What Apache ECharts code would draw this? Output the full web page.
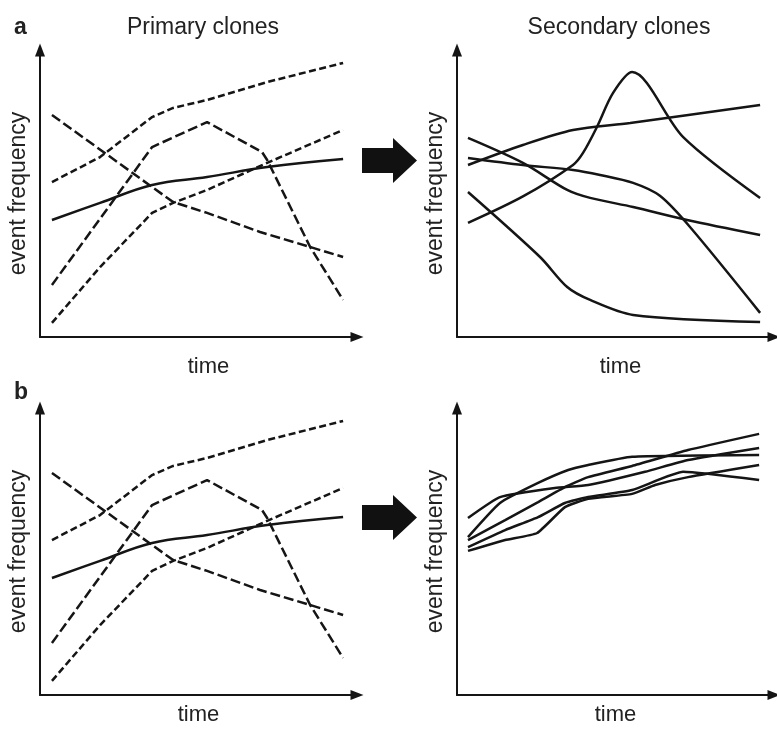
<!DOCTYPE html>
<html>
<head>
<meta charset="utf-8">
<script src="https://cdn.jsdelivr.net/npm/echarts@6/dist/echarts.min.js"></script>
<style>html,body{margin:0;padding:0;background:#fff}#c{width:777px;height:731px}</style>
</head>
<body>
<div id="c"></div>
<script>
// ---- data: [time, event frequency] in arbitrary units ----
// Panel a/b, primary clones (dashed short, dashed long, solid)
const primaryShortTop = [[0.37,5.27],[1.86,6.12],[3.47,7.48],[4.12,7.79],[5.17,8.06],[7.03,8.67],[9.38,9.32]];
const primaryLongFall = [[0.37,7.55],[3.47,5.10],[4.12,4.59],[5.17,4.22],[6.81,3.57],[8.36,3.06],[9.38,2.72]];
const primaryLongPeak = [[0.37,1.77],[3.47,6.46],[5.17,7.31],[6.87,6.29],[7.03,6.02],[8.36,3.06],[9.38,1.26]];
const primaryShortRise = [[0.37,0.48],[1.86,2.38],[3.47,4.22],[4.12,4.56],[5.17,5.00],[7.03,5.92],[9.38,7.04]];
const primarySolid = [[0.37,3.98],[1.86,4.56],[3.47,5.17],[5.17,5.44],[7.03,5.78],[9.38,6.05]];

// Panel a, secondary clones (divergent)
const secA1 = [[0.34,3.88],[2.04,4.78],[3.59,5.85],[3.90,6.26],[4.33,7.14],[4.83,8.30],[5.42,9.01],[7.00,6.80],[9.38,4.73]];
const secA2 = [[0.34,5.85],[2.04,6.53],[3.59,7.04],[5.36,7.28],[9.38,7.89]];
const secA3 = [[0.34,6.77],[2.04,5.92],[3.41,5.00],[4.12,4.73],[5.45,4.42],[7.12,3.98],[9.38,3.47]];
const secA4 = [[0.34,6.09],[2.04,5.85],[3.59,5.68],[4.43,5.51],[5.45,5.24],[6.28,4.80],[7.21,3.74],[9.38,0.82]];
const secA5 = [[0.34,4.93],[2.57,2.72],[3.41,1.70],[4.12,1.26],[5.45,0.75],[9.38,0.51]];

// Panel b, secondary clones (convergent)
const secB1 = [[0.34,6.02],[1.33,6.73],[3.03,7.04],[4.06,7.14],[5.82,7.59],[7.15,7.99],[9.35,8.40]];
const secB2 = [[0.34,5.37],[1.33,6.53],[2.51,7.21],[3.44,7.65],[4.06,7.82],[5.42,8.10],[9.35,8.16]];
const secB3 = [[0.34,5.27],[1.49,5.95],[2.51,6.56],[3.34,7.07],[4.06,7.41],[5.42,7.79],[7.15,8.33],[9.35,8.88]];
const secB4 = [[0.34,5.03],[1.49,5.61],[2.51,6.05],[3.34,6.53],[4.06,6.73],[5.42,6.97],[7.00,7.59],[9.35,7.31]];
const secB5 = [[0.34,4.90],[1.49,5.27],[2.48,5.51],[3.34,6.39],[4.06,6.67],[5.42,6.84],[6.13,7.14],[7.15,7.41],[9.35,7.82]];

const panelTitles = ['Primary clones', 'Secondary clones'];
const panelLetters = ['a', 'b'];
const xName = 'time';
const yName = 'event frequency';

// ---- chart ----
const FONT = 'Liberation Sans, Arial, Helvetica, sans-serif';
const INK = '#151515';
const TXT = '#222';
const chart = echarts.init(document.getElementById('c'), null, {renderer: 'canvas'});

const gridDefs = [
  {left: 40, top: 50, width: 317, height: 287},
  {left: 457, top: 50, width: 317, height: 287},
  {left: 40, top: 408, width: 317, height: 287},
  {left: 457, top: 408, width: 317, height: 287}
];
const namePadLeft = [20, 10, 0, 0];
const nameGapX = [19, 19, 9, 9];
const X_MAX = 9.81, Y_MAX = 9.76;

function axisLine() {
  return {show: true, lineStyle: {color: INK, width: 2}, symbol: ['none', 'triangle'], symbolSize: [10, 13]};
}
const xAxes = gridDefs.map((g, i) => ({
  gridIndex: i, type: 'value', min: 0, max: X_MAX,
  axisLine: axisLine(), axisTick: {show: false}, axisLabel: {show: false}, splitLine: {show: false},
  name: xName, nameLocation: 'middle', nameGap: nameGapX[i],
  nameTextStyle: {fontFamily: FONT, fontSize: 22, color: TXT, padding: [0, 0, 0, namePadLeft[i]]}
}));
const yAxes = gridDefs.map((g, i) => ({
  gridIndex: i, type: 'value', min: 0, max: Y_MAX,
  axisLine: axisLine(), axisTick: {show: false}, axisLabel: {show: false}, splitLine: {show: false},
  name: yName, nameLocation: 'middle', nameGap: 10, nameRotate: 90,
  nameTextStyle: {fontFamily: FONT, fontSize: 23, color: TXT, verticalAlign: 'bottom'}
}));

function line(data, idx, dash, smooth) {
  return {
    type: 'line', data: data, xAxisIndex: idx, yAxisIndex: idx,
    showSymbol: false, symbol: 'none', smooth: smooth || false, silent: true,
    lineStyle: {color: INK, width: 2.5, type: dash || 'solid', cap: 'butt'}
  };
}
const SHORT = [7, 3.5], LONG = [10, 4];
const series = [];
[0, 2].forEach(i => {
  series.push(line(primaryShortTop, i, SHORT));
  series.push(line(primaryLongFall, i, LONG));
  series.push(line(primaryLongPeak, i, LONG));
  series.push(line(primaryShortRise, i, SHORT));
  series.push(line(primarySolid, i, 'solid', 0.4));
});
[secA1, secA2, secA3, secA4, secA5].forEach(d => series.push(line(d, 1, 'solid', 0.3)));
[secB1, secB2, secB3, secB4, secB5].forEach(d => series.push(line(d, 3, 'solid', 0.15)));

function bigArrow(yc) {
  return {
    type: 'polygon', silent: true,
    shape: {points: [[362, yc - 12.5], [393, yc - 12.5], [393, yc - 22.5], [417, yc], [393, yc + 22.5], [393, yc + 12.5], [362, yc + 12.5]]},
    style: {fill: '#111'}
  };
}

chart.setOption({
  backgroundColor: '#fff',
  animation: false,
  title: [
    {text: panelLetters[0], left: 9, top: 11, textStyle: {fontFamily: FONT, fontSize: 23, fontWeight: 'bold', color: TXT}},
    {text: panelLetters[1], left: 9, top: 376, textStyle: {fontFamily: FONT, fontSize: 23, fontWeight: 'bold', color: TXT}},
    {text: panelTitles[0], left: 198, top: 11, textAlign: 'center', textStyle: {fontFamily: FONT, fontSize: 23, fontWeight: 'normal', color: TXT}},
    {text: panelTitles[1], left: 614, top: 11, textAlign: 'center', textStyle: {fontFamily: FONT, fontSize: 23, fontWeight: 'normal', color: TXT}}
  ],
  grid: gridDefs.map(g => Object.assign({containLabel: false, outerBoundsMode: 'none'}, g)),
  xAxis: xAxes,
  yAxis: yAxes,
  series: series,
  graphic: [bigArrow(160.5), bigArrow(517.5)]
});
</script>
</body>
</html>
